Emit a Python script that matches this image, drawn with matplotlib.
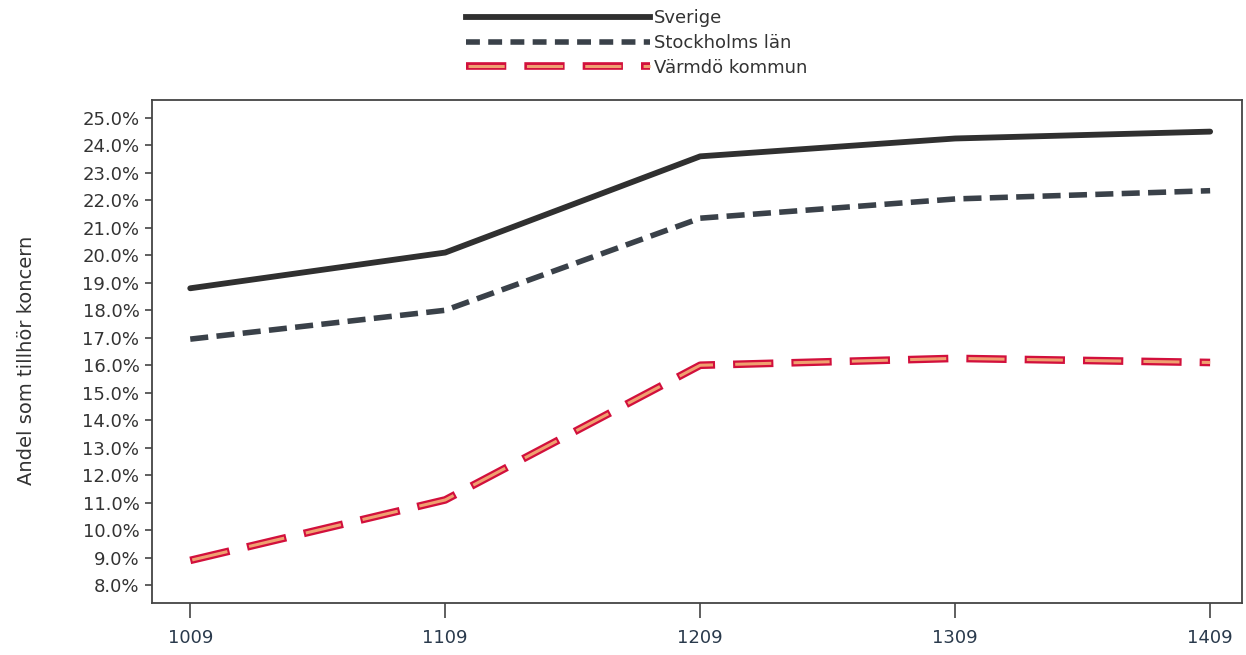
import matplotlib
matplotlib.use("Agg")
import matplotlib.pyplot as plt
from matplotlib.ticker import FuncFormatter
from matplotlib.lines import Line2D
from matplotlib.legend_handler import HandlerTuple

plt.rcParams['font.family'] = ['DejaVu Sans']
plt.rcParams['lines.scale_dashes'] = False

periods = ["1009", "1109", "1209", "1309", "1409"]
sverige = [18.8, 20.1, 23.6, 24.25, 24.5]
stockholm = [16.95, 18.0, 21.35, 22.05, 22.35]
varmdo = [8.9, 11.1, 16.0, 16.25, 16.1]
yticks = [8, 9, 10, 11, 12, 13, 14, 15, 16, 17, 18, 19, 20, 21, 22, 23, 24, 25]

fig = plt.figure(figsize=(12.46, 6.55), dpi=100)
ax = fig.add_axes([152/1246, 1 - 603/655, (1242-152)/1246, (603-100)/655])

x = list(range(len(periods)))
c_sv = "#303030"
c_st = "#3a4149"
c_edge = "#d2103c"
c_fill = "#f0a070"

ax.plot(x, sverige, color=c_sv, lw=4.2, solid_joinstyle='round', solid_capstyle='round', zorder=3)
ax.plot(x, stockholm, color=c_st, lw=4.0, dashes=(13, 6), dash_capstyle='butt', zorder=3)
ax.plot(x, varmdo, color=c_edge, lw=5.5, dashes=(29, 13), dash_capstyle='butt', zorder=3)
ax.plot(x, varmdo, color=c_fill, lw=2.2, linestyle=(40.5, (26, 16)), dash_capstyle='butt', zorder=4)

ax.set_xlim(-0.15, 4.125)
ax.set_ylim(7.35, 25.65)
ax.set_xticks(x)
ax.set_xticklabels(periods, color="#2a3a4c", fontsize=13)
ax.set_yticks(yticks)
ax.yaxis.set_major_formatter(FuncFormatter(lambda v, p: f"{v:.1f}%"))
ax.tick_params(axis='y', labelsize=13, labelcolor="#333333", length=5, width=1.2, color="#444444", pad=4)
ax.tick_params(axis='x', length=11, width=1.2, color="#444444", pad=8)
for s in ax.spines.values():
    s.set_color("#444444")
    s.set_linewidth(1.3)

fig.text(27/1246, 1 - 360/655, "Andel som tillhör koncern", rotation=90, va='center', ha='center',
         fontsize=14, color="#333333")

# legend
h_sv = Line2D([], [], color=c_sv, lw=4.2)
h_st = Line2D([], [], color=c_st, lw=4.0, dashes=(10, 6))
h_va = (Line2D([], [], color=c_edge, lw=5.5, dashes=(29, 13)),
        Line2D([], [], color=c_fill, lw=2.2, linestyle=(40.5, (26, 16))))
fig.legend([h_sv, h_st, h_va], ["Sverige", "Stockholms län", "Värmdö kommun"],
           loc='upper left', bbox_to_anchor=(450/1246, 1 + 7/655), frameon=False,
           fontsize=13, handlelength=10.2, handletextpad=0.2, labelspacing=0.37,
           handler_map={tuple: HandlerTuple(ndivide=1, pad=0)}, labelcolor="#333333")

fig.savefig("out.png", dpi=100)
